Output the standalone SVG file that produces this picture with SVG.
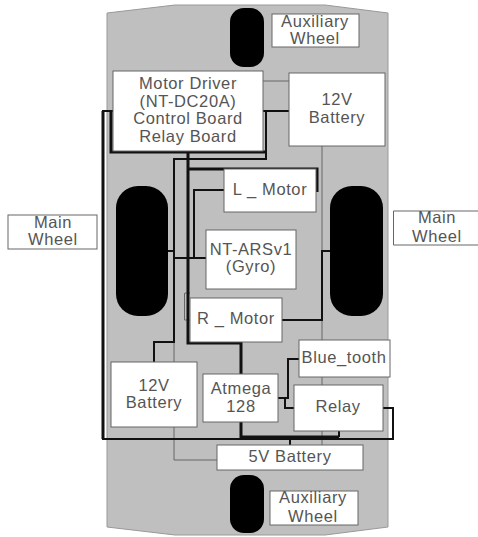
<svg xmlns="http://www.w3.org/2000/svg" width="478" height="537" viewBox="0 0 478 537">
<style>
.n{fill:#fff;stroke:#666;stroke-width:1}
.l{fill:#555;font:16.5px "Liberation Sans",Arial,sans-serif;text-anchor:middle;letter-spacing:.6px}
.w{fill:#000}
.c{fill:none;stroke-linejoin:miter}
.g{stroke:#666;stroke-width:1}
.k{stroke:#111;stroke-width:2}
.b{stroke:#111;stroke-width:3}
</style>
<rect width="478" height="537" fill="#fff"/>
<path id="chassis" d="M107 13L175 5H325L388 13V527L325 535H175L107 527Z" fill="#bfbfbf" stroke="#999"/>
<g id="wheels">
<rect id="aux-wheel-top" class="w" x="230" y="8" width="34" height="59" rx="14"/>
<rect id="main-wheel-left" class="w" x="116" y="186" width="52" height="130" rx="22"/>
<rect id="main-wheel-right" class="w" x="330" y="186" width="53" height="130" rx="22"/>
<rect id="aux-wheel-bottom" class="w" x="230" y="475" width="34" height="58" rx="14"/>
</g>
<g id="connectors">
<path class="c g" d="M263 81H289M322 146V340M174 342V362M174 427V460H217M322 377V385M322 431V445M185 293H190M184.500 293V320H190"/>
<path class="c k" d="M263 111H289M266 111V159H174V342H154V362M168 251H174M174 258H206M194 258V190H224M316 190V169M282 320H322V251H330M278 398H288V359H299M285 398V408H296M383 408H393V439H103V111H113M290 437V445M339 431V437"/>
<path class="c b" d="M111 111V152H265M188 152V343H241V374M188 169H317V192M241 422V437H339M103 111V439"/>
</g>
<g id="motor-driver"><rect class="n" x="113" y="71" width="150" height="80"/><text class="l" x="188" y="89">Motor Driver</text><text class="l" x="188" y="107">(NT-DC20A)</text><text class="l" x="188" y="124">Control Board</text><text class="l" x="188" y="142">Relay Board</text></g>
<g id="battery-top"><rect class="n" x="289" y="73" width="96" height="73"/><text class="l" x="337" y="105">12V</text><text class="l" x="337" y="123">Battery</text></g>
<g id="l-motor"><rect class="n" x="224" y="169" width="92" height="43"/><text class="l" x="270" y="195">L _ Motor</text></g>
<g id="gyro"><rect class="n" x="206" y="230" width="90" height="59"/><text class="l" x="251" y="255">NT-ARSv1</text><text class="l" x="251" y="272">(Gyro)</text></g>
<g id="r-motor"><rect class="n" x="190" y="298" width="92" height="44"/><text class="l" x="236" y="324">R _ Motor</text></g>
<g id="bluetooth"><rect class="n" x="299" y="340" width="91" height="37"/><text class="l" x="344" y="363">Blue_tooth</text></g>
<g id="relay"><rect class="n" x="294" y="385" width="89" height="46"/><text class="l" x="338" y="412">Relay</text></g>
<g id="atmega"><rect class="n" x="203" y="374" width="75" height="48"/><text class="l" x="241" y="394">Atmega</text><text class="l" x="241" y="412">128</text></g>
<g id="battery-left"><rect class="n" x="111" y="362" width="86" height="65"/><text class="l" x="154" y="391">12V</text><text class="l" x="154" y="408">Battery</text></g>
<g id="battery-5v"><rect class="n" x="217" y="445" width="146" height="25"/><text class="l" x="290" y="462">5V Battery</text></g>
<g id="aux-label-top"><rect class="n" x="272" y="14" width="87" height="33"/><text class="l" x="315" y="27">Auxiliary</text><text class="l" x="315" y="44">Wheel</text></g>
<g id="aux-label-bottom"><rect class="n" x="270" y="491" width="88" height="34"/><text class="l" x="313" y="503">Auxiliary</text><text class="l" x="313" y="522">Wheel</text></g>
<g id="main-label-left"><rect class="n" x="8" y="215" width="89" height="34"/><text class="l" x="53" y="228">Main</text><text class="l" x="53" y="245">Wheel</text></g>
<g id="main-label-right"><path class="n" d="M478 211H393.500V245H478"/><text class="l" x="437" y="223">Main</text><text class="l" x="437" y="242">Wheel</text></g>
</svg>
